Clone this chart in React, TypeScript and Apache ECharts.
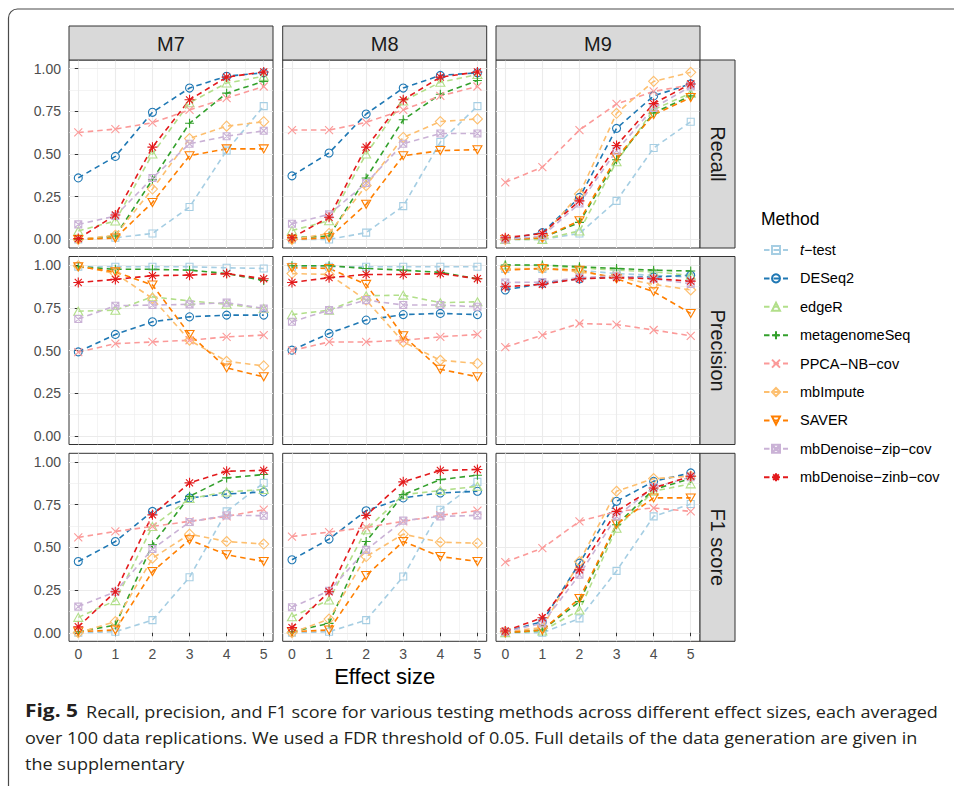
import React, { useEffect, useRef } from 'react';
import * as echarts from 'echarts';

// ---------- data ----------
const effectSizes = [0, 1, 2, 3, 4, 5];
const xMinorBreaks = [0.5, 1.5, 2.5, 3.5, 4.5];
const yBreaks = [0, 0.25, 0.5, 0.75, 1];
const yMinorBreaks = [0.125, 0.375, 0.625, 0.875];
const scenarios = ['M7', 'M8', 'M9'];
const metrics = ['Recall', 'Precision', 'F1 score'];
const methods = [
  't\u2212test', 'DESeq2', 'edgeR', 'metagenomeSeq', 'PPCA\u2212NB\u2212cov',
  'mbImpute', 'SAVER', 'mbDenoise\u2212zip\u2212cov', 'mbDenoise\u2212zinb\u2212cov',
];

// rows: methods in the order above; columns: effect size 0..5
const recallM7 = [
  [0.0, 0.01, 0.035, 0.19, 0.52, 0.78],
  [0.36, 0.486, 0.744, 0.886, 0.955, 0.975],
  [0.05, 0.108, 0.5, 0.8, 0.915, 0.955],
  [0.0, 0.02, 0.35, 0.68, 0.856, 0.925],
  [0.626, 0.646, 0.683, 0.758, 0.827, 0.895],
  [0.0, 0.025, 0.295, 0.59, 0.663, 0.689],
  [0.0, 0.008, 0.216, 0.49, 0.53, 0.53],
  [0.088, 0.137, 0.36, 0.56, 0.604, 0.636],
  [0.005, 0.143, 0.54, 0.817, 0.95, 0.98],
];
const recallM8 = [
  [0.0, 0.0, 0.04, 0.195, 0.57, 0.78],
  [0.372, 0.506, 0.734, 0.886, 0.96, 0.975],
  [0.052, 0.11, 0.5, 0.81, 0.92, 0.965],
  [0.01, 0.02, 0.36, 0.7, 0.85, 0.93],
  [0.64, 0.64, 0.685, 0.758, 0.84, 0.895],
  [0.0, 0.035, 0.315, 0.597, 0.69, 0.705],
  [0.0, 0.01, 0.206, 0.49, 0.52, 0.525],
  [0.092, 0.147, 0.33, 0.56, 0.62, 0.62],
  [0.01, 0.13, 0.54, 0.817, 0.95, 0.98],
];
const recallM9 = [
  [0.0, 0.0, 0.035, 0.226, 0.535, 0.689],
  [0.0, 0.04, 0.246, 0.65, 0.84, 0.91],
  [0.0, 0.0, 0.05, 0.455, 0.76, 0.856],
  [0.0, 0.01, 0.1, 0.466, 0.74, 0.84],
  [0.334, 0.423, 0.64, 0.793, 0.866, 0.905],
  [0.0, 0.015, 0.266, 0.738, 0.925, 0.978],
  [0.0, 0.01, 0.11, 0.48, 0.73, 0.83],
  [0.0, 0.02, 0.21, 0.52, 0.77, 0.895],
  [0.01, 0.035, 0.226, 0.55, 0.795, 0.91],
];
const precisionM7 = [
  [0.99, 0.99, 0.99, 0.99, 0.984, 0.98],
  [0.492, 0.594, 0.668, 0.697, 0.707, 0.707],
  [0.73, 0.736, 0.814, 0.79, 0.77, 0.746],
  [0.99, 0.975, 0.975, 0.97, 0.95, 0.91],
  [0.49, 0.54, 0.55, 0.56, 0.58, 0.59],
  [0.996, 0.95, 0.805, 0.56, 0.437, 0.41],
  [0.99, 0.96, 0.883, 0.594, 0.398, 0.346],
  [0.684, 0.762, 0.766, 0.77, 0.78, 0.746],
  [0.898, 0.916, 0.938, 0.941, 0.95, 0.92],
];
const precisionM8 = [
  [0.99, 0.99, 0.99, 0.99, 0.99, 0.99],
  [0.502, 0.6, 0.678, 0.71, 0.717, 0.71],
  [0.71, 0.736, 0.82, 0.824, 0.78, 0.785],
  [0.996, 0.996, 0.98, 0.97, 0.957, 0.92],
  [0.5, 0.55, 0.55, 0.56, 0.58, 0.594],
  [0.95, 0.945, 0.795, 0.55, 0.443, 0.424],
  [0.984, 0.98, 0.887, 0.586, 0.39, 0.346],
  [0.668, 0.736, 0.795, 0.766, 0.766, 0.756],
  [0.898, 0.926, 0.945, 0.945, 0.95, 0.92],
];
const precisionM9 = [
  [0.977, 0.977, 0.97, 0.95, 0.94, 0.93],
  [0.854, 0.893, 0.92, 0.93, 0.93, 0.94],
  [1.0, 0.996, 0.984, 0.97, 0.96, 0.94],
  [1.0, 1.0, 0.99, 0.98, 0.97, 0.965],
  [0.52, 0.59, 0.658, 0.652, 0.62, 0.586],
  [0.98, 0.98, 0.96, 0.93, 0.887, 0.854],
  [0.97, 0.98, 0.97, 0.92, 0.844, 0.717],
  [0.898, 0.9, 0.926, 0.937, 0.92, 0.89],
  [0.873, 0.887, 0.92, 0.926, 0.92, 0.906],
];
const f1M7 = [
  [0.0, 0.006, 0.074, 0.325, 0.71, 0.877],
  [0.417, 0.534, 0.71, 0.789, 0.812, 0.824],
  [0.09, 0.188, 0.622, 0.785, 0.824, 0.838],
  [0.006, 0.045, 0.515, 0.798, 0.906, 0.926],
  [0.558, 0.593, 0.622, 0.652, 0.681, 0.72],
  [0.0, 0.065, 0.436, 0.577, 0.534, 0.519],
  [0.006, 0.016, 0.358, 0.544, 0.456, 0.417],
  [0.153, 0.24, 0.49, 0.648, 0.687, 0.685],
  [0.035, 0.24, 0.69, 0.877, 0.945, 0.95],
];
const f1M8 = [
  [0.0, 0.006, 0.074, 0.329, 0.72, 0.883],
  [0.427, 0.548, 0.714, 0.789, 0.818, 0.828],
  [0.094, 0.192, 0.603, 0.808, 0.832, 0.857],
  [0.006, 0.055, 0.534, 0.808, 0.896, 0.922],
  [0.563, 0.589, 0.616, 0.652, 0.687, 0.714],
  [0.0, 0.08, 0.446, 0.577, 0.53, 0.524],
  [0.006, 0.016, 0.335, 0.534, 0.446, 0.417],
  [0.149, 0.245, 0.485, 0.656, 0.681, 0.687],
  [0.03, 0.24, 0.687, 0.883, 0.95, 0.955],
];
const f1M9 = [
  [0.0, 0.0, 0.084, 0.362, 0.681, 0.753],
  [0.006, 0.065, 0.407, 0.769, 0.886, 0.935],
  [0.0, 0.01, 0.133, 0.612, 0.828, 0.871],
  [0.0, 0.016, 0.182, 0.632, 0.838, 0.902],
  [0.413, 0.495, 0.652, 0.71, 0.73, 0.71],
  [0.006, 0.03, 0.417, 0.828, 0.902, 0.916],
  [0.0, 0.016, 0.2, 0.636, 0.789, 0.789],
  [0.006, 0.055, 0.339, 0.681, 0.851, 0.91],
  [0.01, 0.088, 0.368, 0.71, 0.847, 0.916],
];

const panelData = [
  [recallM7, recallM8, recallM9],
  [precisionM7, precisionM8, precisionM9],
  [f1M7, f1M8, f1M9],
];

const captionBold = 'Fig. 5';
const captionLines = [
  'Recall, precision, and F1 score for various testing methods across different effect sizes, each averaged',
  'over 100 data replications. We used a FDR threshold of 0.05. Full details of the data generation are given in',
  'the supplementary',
];

// ---------- styles ----------
const colors = ['#A6CEE3', '#1F78B4', '#B2DF8A', '#33A02C', '#FB9A99', '#FDBF6F', '#FF7F00', '#CAB2D6', '#E31A1C'];
const symbols = [
  'rect',
  'circle',
  'triangle',
  'path://M5,0L5,10M0,5L10,5',
  'path://M0,0L10,10M10,0L0,10',
  'diamond',
  'path://M0,0L10,0L5,8.66Z',
  'path://M0,0L10,0L10,10L0,10ZM0,0L10,10M10,0L0,10',
  'path://M5,0L5,10M0,5L10,5M1.46,1.46L8.54,8.54M8.54,1.46L1.46,8.54',
];
const symbolSizes: any[] = [7, 8, [9, 8], 9, 8, 10, [9, 8], 7, 10];

const FONT = "'Liberation Sans', Arial, Helvetica, sans-serif";
const CAP_FONT = "'Open Sans', 'Noto Sans', sans-serif";
const colLeft = [69, 282.7, 496];
const rowTop = [60, 256.5, 453.3];
const PW = 204;
const PH = 188;

function measure(text: string, font: string) {
  const c = document.createElement('canvas').getContext('2d')!;
  c.font = font;
  return c.measureText(text).width;
}

function buildOption() {
  const grid: any[] = [];
  const xAxis: any[] = [];
  const yAxis: any[] = [];
  const series: any[] = [];
  const graphic: any[] = [];

  for (let r = 0; r < 3; r++) {
    for (let c = 0; c < 3; c++) {
      const k = r * 3 + c;
      grid.push({
        left: colLeft[c], top: rowTop[r], width: PW, height: PH,
        show: true, borderColor: '#333333', borderWidth: 1, backgroundColor: 'rgba(0,0,0,0)',
      });
      const bottom = r === 2;
      const left = c === 0;
      xAxis.push({
        gridIndex: k, type: 'value', min: -0.25, max: 5.25, position: 'bottom',
        axisLine: { show: false },
        axisTick: { show: bottom, length: 3.5, lineStyle: { color: '#333333', width: 1 }, customValues: effectSizes },
        axisLabel: { show: bottom, customValues: effectSizes, fontSize: 14, color: '#4D4D4D', margin: 6, fontFamily: FONT },
        splitLine: { show: true, lineStyle: { color: '#EBEBEB', width: 1.1 } },
        name: k === 7 ? 'Effect size' : '',
        nameLocation: 'middle', nameGap: 24,
        nameTextStyle: { fontSize: 22, color: '#000000', fontFamily: FONT },
      });
      xAxis.push({
        gridIndex: k, type: 'value', min: -0.25, max: 5.25, position: 'bottom',
        axisLine: { show: false },
        axisTick: { show: false, customValues: xMinorBreaks },
        axisLabel: { show: false, customValues: xMinorBreaks },
        splitLine: { show: true, lineStyle: { color: '#EBEBEB', width: 0.55 } },
      });
      yAxis.push({
        gridIndex: k, type: 'value', min: -0.05, max: 1.05, position: 'left',
        axisLine: { show: false },
        axisTick: { show: left, length: 3.5, lineStyle: { color: '#333333', width: 1 }, customValues: yBreaks },
        axisLabel: {
          show: left, customValues: yBreaks, fontSize: 14, color: '#4D4D4D', margin: 8, fontFamily: FONT,
          formatter: (v: number) => v.toFixed(2),
        },
        splitLine: { show: true, lineStyle: { color: '#EBEBEB', width: 1.1 } },
      });
      yAxis.push({
        gridIndex: k, type: 'value', min: -0.05, max: 1.05, position: 'left',
        axisLine: { show: false },
        axisTick: { show: false, customValues: yMinorBreaks },
        axisLabel: { show: false, customValues: yMinorBreaks },
        splitLine: { show: true, lineStyle: { color: '#EBEBEB', width: 0.55 } },
      });
      const vals = panelData[r][c];
      methods.forEach((name, m) => {
        series.push({
          type: 'line', name, xAxisIndex: 2 * k, yAxisIndex: 2 * k,
          data: effectSizes.map((x, i) => [x, vals[m][i]]),
          symbol: symbols[m], symbolSize: symbolSizes[m],
          itemStyle: { color: 'rgba(255,255,255,0)', borderColor: colors[m], borderWidth: 1.1 },
          lineStyle: { color: colors[m], width: 1.6, type: [5.5, 4] },
          silent: true, z: 3,
        });
      });
    }
  }

  // top strips
  scenarios.forEach((s, c) => {
    graphic.push({
      type: 'rect', shape: { x: colLeft[c], y: 26, width: PW, height: 34 },
      style: { fill: '#D9D9D9', stroke: '#333333', lineWidth: 1 }, z: 5,
    });
    graphic.push({
      type: 'text', x: colLeft[c] + PW / 2, y: 43.5, z: 6,
      style: { text: s, fontSize: 20, fontFamily: FONT, fill: '#1A1A1A', align: 'center', verticalAlign: 'middle', textAlign: 'center', textVerticalAlign: 'middle' },
    });
  });
  // right strips
  metrics.forEach((mtr, r) => {
    graphic.push({
      type: 'rect', shape: { x: 700, y: rowTop[r], width: 35, height: PH },
      style: { fill: '#D9D9D9', stroke: '#333333', lineWidth: 1 }, z: 5,
    });
    graphic.push({
      type: 'text', x: 718, y: rowTop[r] + PH / 2, rotation: -Math.PI / 2, z: 6,
      style: { text: mtr, fontSize: 20, fontFamily: FONT, fill: '#1A1A1A', align: 'center', verticalAlign: 'middle', textAlign: 'center', textVerticalAlign: 'middle' },
    });
  });
  // legend title
  graphic.push({
    type: 'text', x: 761, y: 219, z: 6,
    style: { text: 'Method', fontSize: 17.5, fontFamily: FONT, fill: '#000000', align: 'left', verticalAlign: 'middle', textAlign: 'left', textVerticalAlign: 'middle' },
  });

  // caption
  const capSize = 17;
  const boldFont = `bold ${capSize}px ${CAP_FONT}`;
  const normFont = `${capSize}px ${CAP_FONT}`;
  const restStart = 86;
  const w1 = measure(captionLines[0], normFont) || 1;
  const sx = (938 - restStart) / w1;
  const bw = measure(captionBold, boldFont) || 1;
  const sxBold = 53 / bw;
  graphic.push({
    type: 'text', x: 25, y: 711, scaleX: sxBold, z: 6,
    style: { text: captionBold, fontSize: capSize, fontWeight: 'bold', fontFamily: CAP_FONT, fill: '#231F20', align: 'left', verticalAlign: 'middle', textAlign: 'left', textVerticalAlign: 'middle' },
  });
  const lineY = [711, 737, 763];
  captionLines.forEach((t, i) => {
    graphic.push({
      type: 'text', x: i === 0 ? restStart : 25, y: lineY[i], scaleX: sx, z: 6,
      style: { text: t, fontSize: capSize, fontFamily: CAP_FONT, fill: '#231F20', align: 'left', verticalAlign: 'middle', textAlign: 'left', textVerticalAlign: 'middle' },
    });
  });
  // figure frame
  graphic.push({
    type: 'rect', shape: { x: 8.5, y: 9, width: 1000, height: 1000, r: 9 },
    style: { fill: 'none', stroke: '#4A4A4A', lineWidth: 1.2 }, z: 1,
  });

  return {
    animation: false,
    backgroundColor: '#FFFFFF',
    grid, xAxis, yAxis, series, graphic,
    legend: {
      orient: 'vertical', left: 763, top: 242.5, padding: 0,
      itemWidth: 24, itemHeight: 10, itemGap: 13.4,
      selectedMode: false,
      data: methods,
      formatter: (name: string) =>
        name === 't\u2212test' ? '{it|t}{n|\u2212test}' : '{n0|' + name + '}',
      textStyle: {
        fontSize: 14.5, fontFamily: FONT, color: '#000000',
        rich: {
          it: { fontStyle: 'italic', fontSize: 14.5, fontFamily: FONT, color: '#000000', padding: [0, 0, 0, 7], lineHeight: 10 },
          n: { fontSize: 14.5, fontFamily: FONT, color: '#000000', lineHeight: 10 },
          n0: { fontSize: 14.5, fontFamily: FONT, color: '#000000', padding: [0, 0, 0, 7], lineHeight: 10 },
        },
      },
    },
  };
}

export default function App() {
  const ref = useRef<HTMLDivElement>(null);
  useEffect(() => {
    const chart = echarts.init(ref.current!, undefined, { renderer: 'svg' });
    chart.setOption(buildOption() as any);
    return () => chart.dispose();
  }, []);
  return (
    <div
      ref={ref}
      style={{ position: 'fixed', left: 0, top: 0, width: 954, height: 786, background: '#ffffff' }}
    />
  );
}
